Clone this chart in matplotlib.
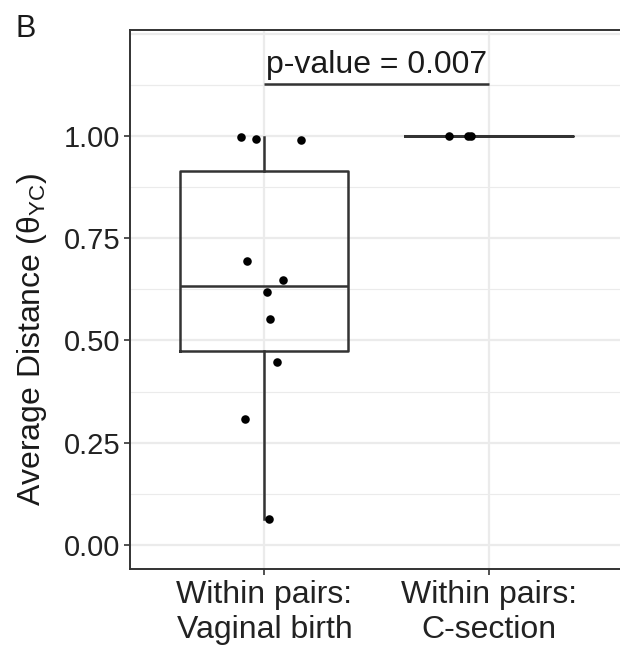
import matplotlib
matplotlib.use("Agg")
import matplotlib.pyplot as plt
import numpy as np

plt.rcParams['font.family'] = ['Liberation Sans', 'DejaVu Sans']
plt.rcParams['mathtext.fontset'] = 'custom'
plt.rcParams['mathtext.rm'] = 'Liberation Sans'
plt.rcParams['mathtext.it'] = 'Liberation Sans:italic'

# ---- data ----
categories = ["Within pairs:\nVaginal birth", "Within pairs:\nC-section"]
vaginal = [0.998, 0.992, 0.989, 0.694, 0.647, 0.619, 0.552, 0.447, 0.307, 0.064]
vaginal_jitter = [-0.104, -0.037, 0.161, -0.079, 0.083, 0.013, 0.024, 0.057, -0.085, 0.019]
csection = [0.999, 1.0, 1.0]
csection_jitter = [-0.175, -0.092, -0.077]
yticks = [0.00, 0.25, 0.50, 0.75, 1.00]
ytick_labels = ["0.00", "0.25", "0.50", "0.75", "1.00"]
p_text = "p-value = 0.007"
bracket_y = 1.127

dark = '#333333'
grid_c = '#EBEBEB'

fig = plt.figure(figsize=(6.2, 6.54), dpi=100)
ax = fig.add_axes([130/620, 1-569/654, 493/620, 539/654])

lw = 1.8
bp = ax.boxplot([vaginal, csection], positions=[1, 2], widths=0.75, whis=1.5,
                showfliers=False, patch_artist=False,
                boxprops=dict(color=dark, lw=lw),
                whiskerprops=dict(color=dark, lw=lw),
                capprops=dict(visible=False),
                medianprops=dict(color=dark, lw=lw),
                zorder=2)

ax.scatter(np.array(vaginal_jitter) + 1, vaginal, s=38, color='black', zorder=3, linewidths=0)
ax.scatter(np.array(csection_jitter) + 2, csection, s=38, color='black', zorder=3, linewidths=0)

ax.set_xlim(0.4, 2.6)
ax.set_ylim(-0.0587, 1.259)

ax.set_yticks(yticks)
ax.set_yticklabels(ytick_labels)
ax.set_yticks([-0.125 + 0.25*i for i in range(1, 6)] + [1.125], minor=True)
ax.set_xticks([1, 2])
ax.set_xticklabels(categories, fontsize=23)
ax.grid(True, which='major', color=grid_c, lw=1.6, zorder=0)
ax.grid(True, which='minor', axis='y', color=grid_c, lw=0.8, zorder=0)
ax.axhline(1.25, color=grid_c, lw=1.6, zorder=0)
ax.set_axisbelow(True)

# significance bracket
ax.plot([1, 2], [bracket_y, bracket_y], color=dark, lw=lw, zorder=3, solid_capstyle='butt')
ax.text(1.5, bracket_y + 0.026, p_text, ha='center', va='baseline', fontsize=23, color='#1a1a1a')

ax.tick_params(axis='both', which='major', length=4, width=1.2, color=dark,
               labelcolor='#222222', pad=3)
ax.tick_params(axis='y', which='major', labelsize=21)
ax.tick_params(axis='x', which='major', pad=4)
ax.tick_params(axis='y', which='minor', length=0)

for sp in ax.spines.values():
    sp.set_color(dark)
    sp.set_linewidth(1.4)

ax.set_ylabel("Average Distance (θ$_{\\mathrm{YC}}$)", fontsize=23, color='#1a1a1a')
ax.yaxis.set_label_coords(-0.164, 0.425)

fig.text(15/620, 1-37/654, "B", fontsize=22, color='#1a1a1a', va='baseline')

fig.savefig("out.png", dpi=100)
